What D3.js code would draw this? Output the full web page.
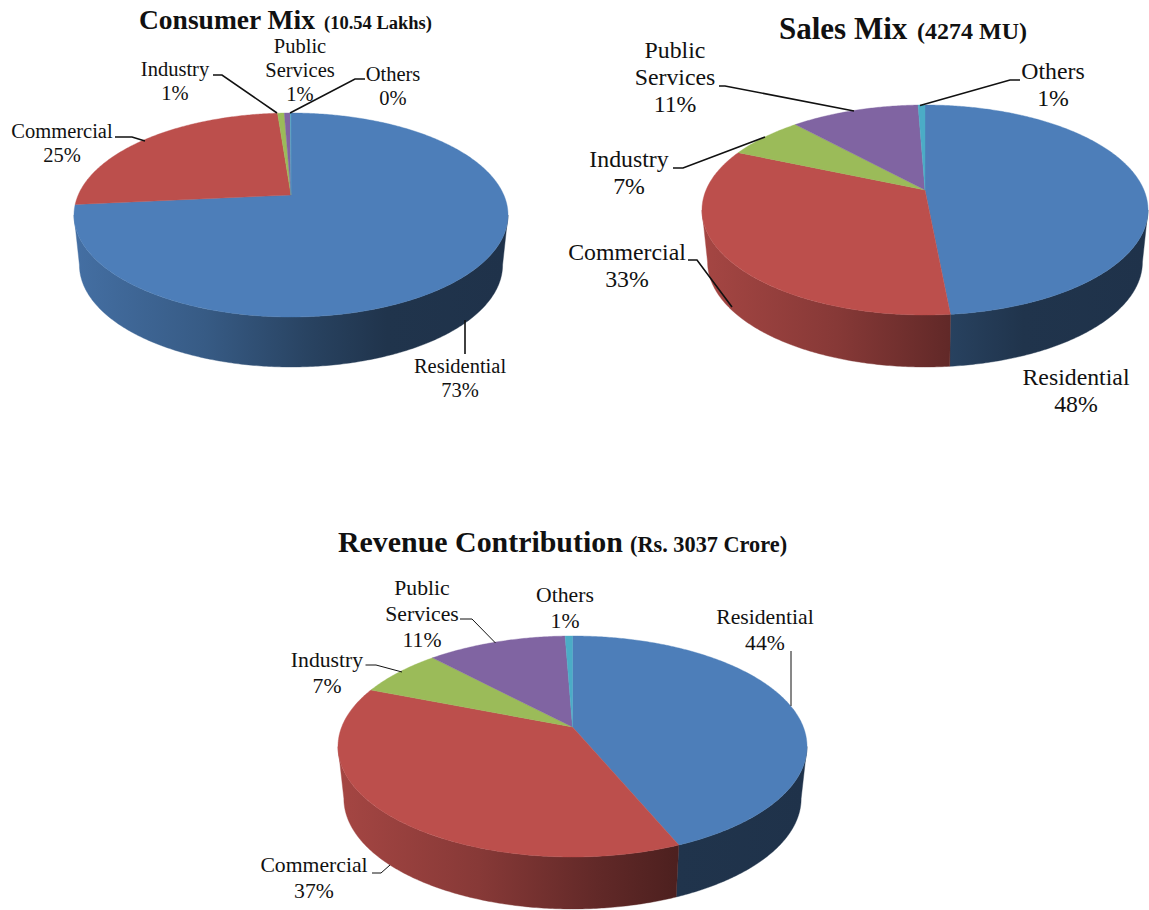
<!DOCTYPE html>
<html><head><meta charset="utf-8">
<style>html,body{margin:0;padding:0;background:#fff}svg{display:block}text{font-family:"Liberation Serif",serif;fill:#111}</style>
<script src="https://cdn.jsdelivr.net/npm/d3@7"></script>
</head><body>
<svg id="c" width="1149" height="910"></svg>
<script>
// ---- data ----
const categories = ["Residential","Commercial","Industry","Public Services","Others"];
const consumerValues = [73.5,25.3,0.6,0.55,0.05];
const consumerLabels = ["73%","25%","1%","1%","0%"];
const salesValues = [48.5,33.0,6.7,11.2,0.6];
const salesLabels = ["48%","33%","7%","11%","1%"];
const revenueValues = [43.7,37.3,7.0,11.4,0.6];
const revenueLabels = ["44%","37%","7%","11%","1%"];
const seriesColors = ["#4d7eb9","#bc4f4c","#9bbb59","#8064a2","#4bacc6"];

// ---- layout ----
const charts = [
 {id:"a",values:consumerValues,labels:consumerLabels,
  left:74,right:508,top:113,bottom:317,apexY:195,depth:50,
  title:"Consumer Mix",titleX:139,titleY:29,titleSize:27.5,sub:"(10.54 Lakhs)",subX:324,subSize:18.5,
  fontSize:20.5,leaderWidth:1.6,lineGap:24,
  place:[{x:460,y:373},{x:62,y:138},{x:175,y:76},{x:300,y:53},{x:393,y:81}],
  leaders:[[[465,320],[465,354]],[[115,137],[132,137],[145,141]],[[213,75],[222,75],[277,113]],null,[[365,79],[355,79],[290,113]]]},
 {id:"b",values:salesValues,labels:salesLabels,
  left:702,right:1148,top:105,bottom:315,apexY:190,depth:52,
  title:"Sales Mix",titleX:779,titleY:39,titleSize:31,sub:"(4274 MU)",subX:917,subSize:24,
  fontSize:23.8,leaderWidth:1.6,lineGap:27,
  place:[{x:1076,y:385},{x:627,y:260},{x:629,y:167},{x:675,y:58},{x:1053,y:79}],
  leaders:[null,[[688,260],[697,260],[732,307]],[[673,168],[683,168],[765,137]],[[719,86],[725,86],[854,111]],[[1020,80],[1010,80],[920,105.5]]]},
 {id:"c",values:revenueValues,labels:revenueLabels,
  left:338,right:807,top:636,bottom:857,apexY:727,depth:52,
  title:"Revenue Contribution",titleX:338,titleY:552,titleSize:29.9,sub:"(Rs. 3037 Crore)",subX:630,subSize:22.3,
  fontSize:21.7,leaderWidth:1,lineGap:26,
  place:[{x:765,y:624},{x:314,y:872},{x:327,y:667},{x:422,y:595},{x:565,y:602}],
  leaders:[[[791,651],[791,706]],[[372,873],[381,873],[390,865]],[[365.5,665],[376,665],[402,672]],[[460,619],[472,619],[495.5,643]],null]}
];
const wallShade = [[0,.88],[.3,.72],[.55,.52],[.72,.41],[1,.40]];

const svg = d3.select("#c");
const defs = svg.append("defs");
const lineGen = d3.line().x(d=>d[0]).y(d=>d[1]);
const pie = d3.pie().sort(null).value(d=>d);

charts.forEach(ch=>{
  const g = svg.append("g");
  const cx=(ch.left+ch.right)/2, half=(ch.right-ch.left)/2;
  const a=ch.apexY-ch.top, b=ch.bottom-ch.apexY;
  const k=(b-a)/(b+a), A=a*(1+k), R=half*Math.sqrt(1-k*k);
  const taper=.975;
  const proj=(t)=>{const X=Math.sin(t),Y=Math.cos(t),w=1+k*Y;return [cx+R*X/w,ch.apexY-A*Y/w];};
  const low=p=>[cx+(p[0]-cx)*taper,p[1]+ch.depth];
  const rim=(s,e)=>{const n=Math.max(2,Math.ceil((e-s)/.01));return d3.range(n+1).map(i=>proj(s+(e-s)*i/n));};
  const arcs=pie(ch.values);

  // the visible front of the wall runs from the rim's rightmost to its leftmost point
  const samples=d3.range(0,2*Math.PI,.002);
  const frontStart=samples[d3.greatestIndex(samples,t=>proj(t)[0])];
  const frontEnd=samples[d3.leastIndex(samples,t=>proj(t)[0])];

  arcs.forEach((d,i)=>{
    const gid=`w${ch.id}${i}`;
    const lg=defs.append("linearGradient").attr("id",gid).attr("gradientUnits","userSpaceOnUse")
      .attr("x1",ch.left).attr("x2",ch.right).attr("y1",0).attr("y2",0);
    const base=d3.rgb(seriesColors[i]);
    wallShade.forEach(([o,f])=>lg.append("stop").attr("offset",o)
      .attr("stop-color",d3.rgb(base.r*f,base.g*f,base.b*f).formatHex()));
    const s=Math.max(d.startAngle,frontStart), e=Math.min(d.endAngle,frontEnd);
    if(e<=s) return;
    const top=rim(s,e);
    const poly=top.concat(top.slice().reverse().map(low));
    g.append("path").attr("d",lineGen(poly)+"Z").attr("fill",`url(#${gid})`)
      .attr("stroke",`url(#${gid})`).attr("stroke-width",.4);
  });
  // top face
  arcs.forEach((d,i)=>{
    const poly=[[cx,ch.apexY]].concat(rim(d.startAngle,d.endAngle));
    g.append("path").attr("d",lineGen(poly)+"Z").attr("fill",seriesColors[i])
      .attr("stroke",seriesColors[i]).attr("stroke-width",.4);
  });
  // leaders
  ch.leaders.forEach(l=>{ if(l) g.append("path").attr("d",lineGen(l)).attr("fill","none")
      .attr("stroke","#111").attr("stroke-width",ch.leaderWidth);});
  // labels
  categories.forEach((c,i)=>{
    const lines=(c==="Public Services"?["Public","Services"]:[c]).concat(ch.labels[i]);
    const p=ch.place[i];
    lines.forEach((t,j)=>g.append("text").attr("x",p.x).attr("y",p.y+j*ch.lineGap)
      .attr("text-anchor","middle").attr("font-size",ch.fontSize).text(t));
  });
  // title
  g.append("text").attr("x",ch.titleX).attr("y",ch.titleY).attr("font-size",ch.titleSize)
    .attr("font-weight","bold").text(ch.title);
  g.append("text").attr("x",ch.subX).attr("y",ch.titleY).attr("font-size",ch.subSize)
    .attr("font-weight","bold").text(ch.sub);
});
</script>
</body></html>
